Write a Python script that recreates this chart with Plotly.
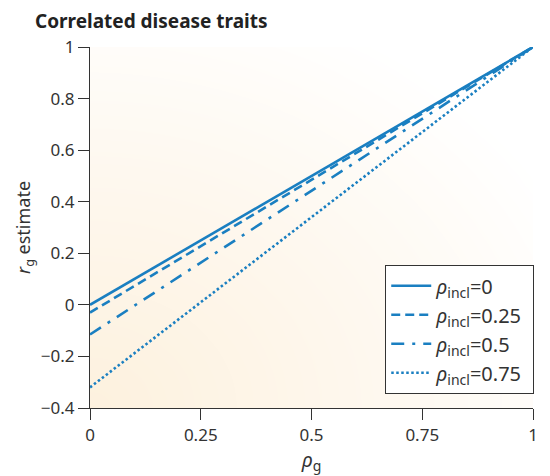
import numpy as np
import plotly.graph_objects as go

# Data
rho_g = [0.0, 1.0]
rho_incl_labels = ["0", "0.25", "0.5", "0.75"]
rg_estimate = {
    "0": [0.0, 1.0],
    "0.25": [-0.03, 1.0],
    "0.5": [-0.115, 1.0],
    "0.75": [-0.32, 1.0],
}
x_ticks = [0, 0.25, 0.5, 0.75, 1]
x_ticktext = ["0", "0.25", "0.5", "0.75", "1"]
y_ticks = [-0.4, -0.2, 0, 0.2, 0.4, 0.6, 0.8, 1]
y_ticktext = ["\u22120.4", "\u22120.2", "0", "0.2", "0.4", "0.6", "0.8", "1"]

dashes = {"0": "solid", "0.25": "9px,5px", "0.5": "13px,8px,3px,8px", "0.75": "2.5px,2.5px"}
color = "#1a7fc1"
FONT = "'Noto Sans', 'Open Sans', sans-serif"

fig = go.Figure()

# Background radial gradient (styling only)
gx = np.linspace(0, 1, 60)
gy = np.linspace(-0.4, 1, 60)
GX, GY = np.meshgrid(gx, gy)
dist = np.sqrt(GX**2 + ((GY + 0.4) / 1.4) ** 2)
fig.add_trace(go.Heatmap(
    x=gx, y=gy, z=dist, zmin=0, zmax=1.2, zsmooth="best",
    colorscale=[[0, "#fdf1de"], [0.55, "#fef8ef"], [1, "#ffffff"]],
    showscale=False, hoverinfo="skip", showlegend=False,
))

for lab in rho_incl_labels:
    fig.add_trace(go.Scatter(
        x=rho_g, y=rg_estimate[lab], mode="lines",
        line=dict(color=color, width=2.6, dash=dashes[lab]),
        name="<i>\u03c1</i><sub>incl</sub>=" + lab + " ",
    ))

tickfont = dict(family=FONT, size=17, color="#333333")
axis_common = dict(
    showgrid=False, zeroline=False, showline=True, linecolor="#333333",
    linewidth=1.3, ticks="outside", ticklen=11, tickwidth=1.3, tickcolor="#333333",
    tickfont=tickfont,
)
fig.update_layout(
    width=550, height=476,
    margin=dict(l=90, r=17, t=47, b=68),
    paper_bgcolor="white", plot_bgcolor="white",
    font=dict(family=FONT, color="#333333", size=16),
    title=dict(text="<b>Correlated disease traits</b>", x=35 / 550, xref="container", xanchor="left",
               y=0.97, yref="container", yanchor="top",
               font=dict(family=FONT, size=19, color="#222222")),
    showlegend=True,
    legend=dict(x=0.666, y=0.396, xanchor="left", yanchor="top",
                bgcolor="white", bordercolor="#333333", borderwidth=1.2,
                font=dict(family=FONT, size=20, color="#333333"), tracegroupgap=0,
                itemwidth=40),
    xaxis=dict(range=[0, 1], tickvals=x_ticks, ticktext=x_ticktext, **axis_common,
               title=dict(text="<i>\u03c1</i><sub>g</sub>", font=dict(family=FONT, size=20), standoff=0)),
    yaxis=dict(range=[-0.4, 1], tickvals=y_ticks, ticktext=y_ticktext, **axis_common,
               title=dict(text="<i>r</i><sub>g</sub> estimate", font=dict(family=FONT, size=18), standoff=5)),
)

fig.write_html("out.html")
